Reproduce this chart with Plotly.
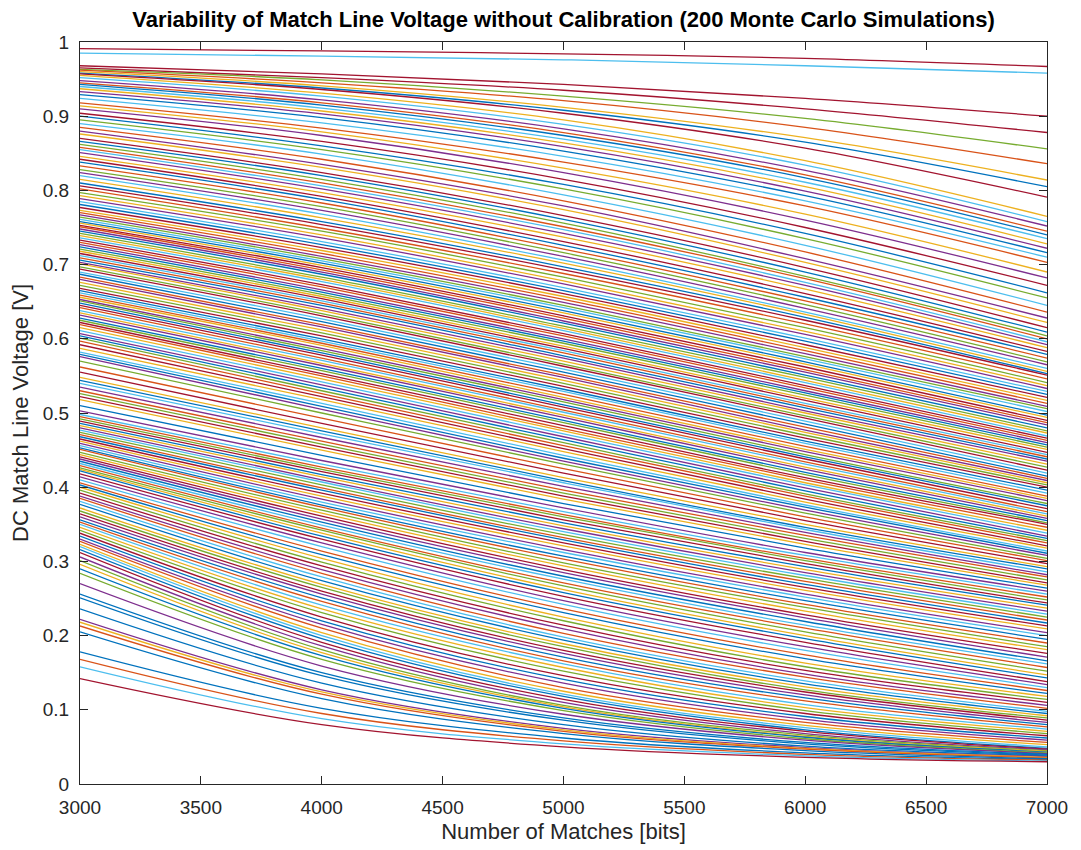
import plotly.graph_objects as go

# Number of matching bits at which each Monte Carlo run is sampled
matches = [3000, 4000, 5000, 6000, 7000]

# DC match-line voltage [V] of the 200 runs at each sample point (runs ordered by voltage)
v_3000 = [
    0.991, 0.985, 0.968, 0.965, 0.963, 0.962, 0.960, 0.958, 0.957, 0.955,
    0.952, 0.948, 0.945, 0.943, 0.940, 0.937, 0.933, 0.929, 0.924, 0.918,
    0.914, 0.910, 0.904, 0.900, 0.895, 0.890, 0.885, 0.880, 0.876, 0.870,
    0.866, 0.862, 0.858, 0.855, 0.851, 0.846, 0.842, 0.838, 0.833, 0.828,
    0.824, 0.820, 0.815, 0.810, 0.806, 0.802, 0.797, 0.793, 0.789, 0.785,
    0.781, 0.777, 0.773, 0.770, 0.767, 0.764, 0.761, 0.758, 0.756, 0.753,
    0.751, 0.748, 0.745, 0.742, 0.739, 0.736, 0.733, 0.730, 0.727, 0.724,
    0.721, 0.718, 0.715, 0.712, 0.709, 0.706, 0.703, 0.701, 0.697, 0.694,
    0.690, 0.687, 0.683, 0.680, 0.676, 0.672, 0.668, 0.665, 0.662, 0.659,
    0.656, 0.653, 0.651, 0.648, 0.645, 0.642, 0.638, 0.635, 0.632, 0.628,
    0.625, 0.622, 0.619, 0.615, 0.611, 0.607, 0.604, 0.601, 0.597, 0.592,
    0.587, 0.582, 0.579, 0.576, 0.570, 0.562, 0.555, 0.548, 0.544, 0.540,
    0.535, 0.530, 0.526, 0.522, 0.518, 0.510, 0.503, 0.498, 0.495, 0.492,
    0.489, 0.486, 0.483, 0.480, 0.477, 0.474, 0.471, 0.468, 0.465, 0.462,
    0.459, 0.456, 0.453, 0.451, 0.447, 0.444, 0.441, 0.438, 0.435, 0.432,
    0.429, 0.426, 0.424, 0.422, 0.418, 0.414, 0.410, 0.406, 0.403, 0.400,
    0.396, 0.392, 0.388, 0.385, 0.381, 0.377, 0.372, 0.368, 0.364, 0.360,
    0.356, 0.353, 0.350, 0.346, 0.342, 0.338, 0.334, 0.330, 0.327, 0.323,
    0.320, 0.316, 0.312, 0.306, 0.301, 0.296, 0.290, 0.284, 0.270, 0.256,
    0.251, 0.236, 0.222, 0.218, 0.213, 0.205, 0.178, 0.168, 0.158, 0.142,
]

v_4000 = [
    0.988, 0.981, 0.957, 0.952, 0.949, 0.945, 0.941, 0.938, 0.936, 0.931,
    0.927, 0.922, 0.918, 0.915, 0.911, 0.907, 0.903, 0.898, 0.891, 0.884,
    0.879, 0.874, 0.866, 0.860, 0.855, 0.849, 0.842, 0.835, 0.831, 0.824,
    0.820, 0.815, 0.810, 0.806, 0.802, 0.797, 0.792, 0.788, 0.783, 0.778,
    0.773, 0.768, 0.763, 0.758, 0.754, 0.749, 0.745, 0.740, 0.736, 0.731,
    0.727, 0.723, 0.719, 0.715, 0.711, 0.708, 0.705, 0.702, 0.699, 0.696,
    0.693, 0.690, 0.687, 0.683, 0.680, 0.677, 0.673, 0.670, 0.666, 0.663,
    0.660, 0.657, 0.654, 0.651, 0.648, 0.645, 0.641, 0.638, 0.634, 0.631,
    0.627, 0.623, 0.619, 0.616, 0.612, 0.608, 0.604, 0.600, 0.597, 0.594,
    0.591, 0.587, 0.584, 0.581, 0.578, 0.574, 0.571, 0.567, 0.564, 0.560,
    0.557, 0.553, 0.550, 0.546, 0.542, 0.538, 0.534, 0.530, 0.526, 0.522,
    0.518, 0.513, 0.509, 0.505, 0.500, 0.493, 0.486, 0.480, 0.476, 0.472,
    0.467, 0.462, 0.458, 0.454, 0.450, 0.443, 0.436, 0.431, 0.427, 0.424,
    0.421, 0.417, 0.414, 0.410, 0.407, 0.403, 0.399, 0.396, 0.392, 0.388,
    0.384, 0.380, 0.376, 0.373, 0.369, 0.365, 0.361, 0.357, 0.353, 0.349,
    0.345, 0.342, 0.338, 0.334, 0.330, 0.325, 0.320, 0.314, 0.309, 0.304,
    0.299, 0.294, 0.289, 0.284, 0.279, 0.274, 0.269, 0.265, 0.260, 0.256,
    0.251, 0.246, 0.241, 0.236, 0.231, 0.225, 0.220, 0.215, 0.210, 0.204,
    0.200, 0.196, 0.191, 0.186, 0.181, 0.177, 0.173, 0.168, 0.159, 0.150,
    0.146, 0.136, 0.127, 0.124, 0.121, 0.115, 0.102, 0.095, 0.088, 0.080,
]

v_5000 = [
    0.984, 0.976, 0.943, 0.935, 0.927, 0.921, 0.912, 0.908, 0.904, 0.895,
    0.889, 0.883, 0.878, 0.874, 0.869, 0.864, 0.859, 0.853, 0.846, 0.838,
    0.830, 0.824, 0.815, 0.808, 0.802, 0.794, 0.786, 0.779, 0.774, 0.766,
    0.761, 0.756, 0.751, 0.747, 0.742, 0.737, 0.731, 0.726, 0.721, 0.716,
    0.711, 0.706, 0.702, 0.697, 0.693, 0.688, 0.683, 0.678, 0.674, 0.669,
    0.665, 0.661, 0.657, 0.653, 0.649, 0.645, 0.642, 0.638, 0.635, 0.631,
    0.628, 0.624, 0.621, 0.617, 0.614, 0.611, 0.607, 0.604, 0.600, 0.597,
    0.594, 0.590, 0.587, 0.584, 0.581, 0.577, 0.574, 0.570, 0.566, 0.563,
    0.559, 0.555, 0.551, 0.548, 0.544, 0.540, 0.536, 0.532, 0.529, 0.525,
    0.521, 0.518, 0.515, 0.511, 0.508, 0.504, 0.501, 0.497, 0.494, 0.490,
    0.487, 0.483, 0.479, 0.476, 0.472, 0.468, 0.464, 0.460, 0.456, 0.452,
    0.448, 0.443, 0.439, 0.435, 0.431, 0.425, 0.419, 0.413, 0.409, 0.406,
    0.401, 0.396, 0.392, 0.388, 0.384, 0.378, 0.372, 0.367, 0.363, 0.360,
    0.356, 0.352, 0.348, 0.344, 0.340, 0.336, 0.332, 0.329, 0.325, 0.321,
    0.316, 0.312, 0.307, 0.303, 0.298, 0.294, 0.289, 0.285, 0.280, 0.276,
    0.271, 0.267, 0.262, 0.258, 0.253, 0.247, 0.242, 0.236, 0.231, 0.225,
    0.220, 0.214, 0.209, 0.203, 0.198, 0.194, 0.189, 0.185, 0.180, 0.176,
    0.171, 0.166, 0.162, 0.157, 0.152, 0.146, 0.141, 0.136, 0.130, 0.125,
    0.121, 0.118, 0.114, 0.110, 0.106, 0.104, 0.102, 0.099, 0.094, 0.089,
    0.086, 0.080, 0.075, 0.073, 0.071, 0.068, 0.062, 0.058, 0.054, 0.050,
]

v_6000 = [
    0.978, 0.968, 0.924, 0.910, 0.897, 0.885, 0.871, 0.865, 0.857, 0.840,
    0.834, 0.827, 0.821, 0.817, 0.811, 0.805, 0.799, 0.793, 0.786, 0.779,
    0.768, 0.760, 0.750, 0.742, 0.735, 0.726, 0.717, 0.708, 0.703, 0.696,
    0.690, 0.684, 0.681, 0.676, 0.672, 0.667, 0.661, 0.656, 0.651, 0.646,
    0.641, 0.636, 0.633, 0.629, 0.625, 0.620, 0.615, 0.610, 0.606, 0.601,
    0.597, 0.592, 0.588, 0.584, 0.580, 0.576, 0.573, 0.569, 0.566, 0.562,
    0.558, 0.555, 0.551, 0.548, 0.544, 0.541, 0.537, 0.534, 0.530, 0.527,
    0.524, 0.520, 0.517, 0.513, 0.510, 0.507, 0.503, 0.500, 0.496, 0.493,
    0.489, 0.485, 0.481, 0.477, 0.474, 0.470, 0.466, 0.462, 0.459, 0.455,
    0.451, 0.448, 0.444, 0.441, 0.438, 0.434, 0.431, 0.427, 0.424, 0.420,
    0.417, 0.413, 0.410, 0.406, 0.403, 0.399, 0.395, 0.391, 0.388, 0.384,
    0.380, 0.376, 0.373, 0.369, 0.365, 0.360, 0.355, 0.350, 0.346, 0.343,
    0.339, 0.335, 0.331, 0.327, 0.323, 0.318, 0.312, 0.308, 0.304, 0.301,
    0.297, 0.293, 0.289, 0.285, 0.281, 0.277, 0.273, 0.269, 0.265, 0.261,
    0.256, 0.252, 0.247, 0.242, 0.238, 0.233, 0.228, 0.224, 0.219, 0.214,
    0.210, 0.205, 0.200, 0.196, 0.191, 0.185, 0.180, 0.174, 0.169, 0.163,
    0.158, 0.153, 0.148, 0.144, 0.139, 0.135, 0.131, 0.127, 0.124, 0.120,
    0.116, 0.112, 0.107, 0.103, 0.099, 0.095, 0.091, 0.087, 0.083, 0.079,
    0.076, 0.073, 0.071, 0.068, 0.066, 0.064, 0.063, 0.061, 0.059, 0.056,
    0.054, 0.051, 0.049, 0.048, 0.047, 0.045, 0.042, 0.040, 0.038, 0.036,
]

v_7000 = [
    0.967, 0.958, 0.900, 0.878, 0.856, 0.836, 0.814, 0.805, 0.791, 0.765,
    0.758, 0.752, 0.745, 0.740, 0.735, 0.728, 0.722, 0.716, 0.710, 0.703,
    0.690, 0.682, 0.672, 0.662, 0.655, 0.645, 0.636, 0.628, 0.622, 0.615,
    0.609, 0.604, 0.600, 0.596, 0.592, 0.588, 0.583, 0.579, 0.574, 0.569,
    0.565, 0.560, 0.556, 0.553, 0.551, 0.546, 0.541, 0.537, 0.533, 0.529,
    0.525, 0.521, 0.517, 0.513, 0.509, 0.506, 0.502, 0.497, 0.494, 0.490,
    0.487, 0.484, 0.480, 0.476, 0.473, 0.469, 0.466, 0.463, 0.460, 0.457,
    0.454, 0.451, 0.447, 0.444, 0.441, 0.438, 0.435, 0.431, 0.427, 0.423,
    0.419, 0.415, 0.412, 0.409, 0.406, 0.403, 0.400, 0.396, 0.392, 0.388,
    0.385, 0.382, 0.378, 0.375, 0.371, 0.367, 0.364, 0.361, 0.358, 0.355,
    0.352, 0.350, 0.346, 0.342, 0.338, 0.334, 0.331, 0.328, 0.325, 0.321,
    0.318, 0.314, 0.311, 0.308, 0.304, 0.301, 0.297, 0.293, 0.290, 0.286,
    0.282, 0.279, 0.275, 0.271, 0.268, 0.264, 0.260, 0.256, 0.252, 0.248,
    0.244, 0.241, 0.237, 0.233, 0.229, 0.225, 0.221, 0.217, 0.213, 0.209,
    0.204, 0.200, 0.195, 0.190, 0.185, 0.181, 0.176, 0.171, 0.166, 0.162,
    0.157, 0.152, 0.147, 0.143, 0.138, 0.134, 0.130, 0.126, 0.122, 0.118,
    0.114, 0.110, 0.106, 0.102, 0.098, 0.095, 0.092, 0.089, 0.086, 0.083,
    0.080, 0.077, 0.074, 0.071, 0.068, 0.065, 0.062, 0.059, 0.056, 0.053,
    0.050, 0.048, 0.047, 0.046, 0.045, 0.044, 0.043, 0.042, 0.041, 0.040,
    0.039, 0.038, 0.037, 0.036, 0.035, 0.034, 0.033, 0.032, 0.031, 0.030,
]

x_ticks = [3000, 3500, 4000, 4500, 5000, 5500, 6000, 6500, 7000]
y_ticks = [0, 0.1, 0.2, 0.3, 0.4, 0.5, 0.6, 0.7, 0.8, 0.9, 1]
y_tick_text = ["0", "0.1", "0.2", "0.3", "0.4", "0.5", "0.6", "0.7", "0.8", "0.9", "1"]

# MATLAB default line colour order
line_colors = ["#0072BD", "#D95319", "#EDB120", "#7E2F8E", "#77AC30", "#4DBEEE", "#A2142F"]
color_index = (
    "656641206253"
    "105230512360451326"
    "04153260143520614235"
    "06213450261304256130"
    "42651032465013246051"
    "23406152304612530416"
    "25034162053146203514"
    "60235410623501426305"
    "14206351024631502463"
    "0152460312"
    "50634"
    "204300032100156"
)

fig = go.Figure()
runs = list(zip(v_3000, v_4000, v_5000, v_6000, v_7000))
for i, run in enumerate(runs):
    fig.add_trace(go.Scatter(
        x=matches,
        y=list(run),
        mode="lines",
        line=dict(color=line_colors[int(color_index[i])], width=1.3, shape="spline"),
        hoverinfo="skip",
        showlegend=False,
    ))

font_family = "Liberation Sans, Arial, sans-serif"
tick_font = dict(family=font_family, size=19, color="#262626")
label_font = dict(family=font_family, size=22, color="#262626")

fig.update_layout(
    width=1081,
    height=850,
    margin=dict(l=80, r=34, t=42, b=66),
    plot_bgcolor="white",
    paper_bgcolor="white",
    showlegend=False,
    title=dict(
        text="<b>Variability of Match Line Voltage without Calibration (200 Monte Carlo Simulations)</b>",
        x=0.5, xref="paper", xanchor="center",
        y=1 - 19 / 850, yref="container", yanchor="middle",
        font=dict(family=font_family, size=22, color="#000000"),
    ),
)

fig.update_xaxes(
    range=[3000, 7000],
    tickvals=x_ticks,
    ticktext=[str(t) for t in x_ticks],
    ticks="inside", ticklen=8, tickwidth=1, tickcolor="#262626",
    showline=True, linecolor="#262626", linewidth=1, mirror="ticks",
    showgrid=False, zeroline=False,
    tickfont=tick_font, ticklabelstandoff=6,
    title=dict(text="Number of Matches [bits]", font=label_font, standoff=6),
)
fig.update_yaxes(
    range=[0, 1],
    tickvals=y_ticks,
    ticktext=y_tick_text,
    ticks="inside", ticklen=8, tickwidth=1, tickcolor="#262626",
    showline=True, linecolor="#262626", linewidth=1, mirror="ticks",
    showgrid=False, zeroline=False,
    tickfont=tick_font, ticklabelstandoff=6,
    title=dict(text="DC Match Line Voltage [V]", font=label_font, standoff=8),
)

fig.write_html("out.html")
